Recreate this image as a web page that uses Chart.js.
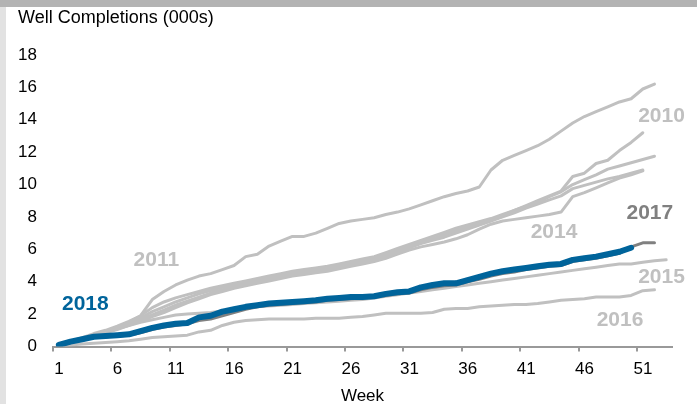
<!DOCTYPE html>
<html>
<head>
<meta charset="utf-8">
<script src="https://cdn.jsdelivr.net/npm/chart.js@4.4.1/dist/chart.umd.min.js"></script>
<style>
  html, body { margin: 0; padding: 0; background: #fff; }
  #wrap { position: relative; width: 697px; height: 404px; overflow: hidden; }
  #topBar { position: absolute; left: 0; top: 0; width: 697px; height: 7px; background: #b3b3b3; }
  #leftBar { position: absolute; left: 0; top: 7px; width: 6px; height: 397px; background: #e2e2e2; }
  #chart { position: absolute; left: 0; top: 0; }
</style>
</head>
<body>
<div id="wrap">
  <div id="topBar"></div>
  <div id="leftBar"></div>
  <canvas id="chart" width="697" height="404"></canvas>
</div>
<script>
// weeks of the year (x categories)
const weeks = [1, 2, 3, 4, 5, 6, 7, 8, 9, 10, 11, 12, 13, 14, 15, 16, 17, 18, 19, 20,
  21, 22, 23, 24, 25, 26, 27, 28, 29, 30, 31, 32, 33, 34, 35, 36, 37, 38, 39, 40,
  41, 42, 43, 44, 45, 46, 47, 48, 49, 50, 51, 52, 53];

// x axis tick labels, y axis ticks
const weekTicks = [1, 6, 11, 16, 21, 26, 31, 36, 41, 46, 51];
const valueTicks = [0, 2, 4, 6, 8, 10, 12, 14, 16, 18];

// cumulative well completions (000s) by week
const s2010 = [0.1, 0.3, 0.55, 0.8, 1.0, 1.25, 1.55, 1.9,
  2.4, 2.75, 3.0, 3.2, 3.4, 3.6, 3.75, 3.9, 4.05, 4.2, 4.35, 4.5,
  4.65, 4.75, 4.85, 4.95, 5.1, 5.25, 5.4, 5.55, 5.8, 6.05,
  6.3, 6.55, 6.8, 7.05, 7.3, 7.5, 7.7, 7.9, 8.15, 8.4,
  8.7, 9.0, 9.3, 9.6, 10.5, 10.7, 11.3, 11.5, 12.1, 12.6, 13.2];
const s2011 = [0.1, 0.3, 0.5, 0.75, 0.95, 1.2, 1.5, 1.9, 2.9, 3.4,
  3.8, 4.1, 4.35, 4.5, 4.75, 5.0, 5.55, 5.7, 6.2, 6.5,
  6.8, 6.8, 7.0, 7.3, 7.6, 7.75, 7.85, 7.95, 8.15, 8.3,
  8.5, 8.75, 9.0, 9.25, 9.45, 9.6, 9.85, 10.9, 11.5, 11.8,
  12.1, 12.4, 12.8, 13.3, 13.8, 14.2, 14.5, 14.8, 15.1, 15.3, 15.9, 16.2];
const s2012 = [0.1, 0.3, 0.5, 0.75, 0.95, 1.2, 1.45, 1.75,
  2.15, 2.45, 2.75, 3.0, 3.25, 3.45, 3.65, 3.8, 3.95, 4.1, 4.25, 4.4,
  4.55, 4.65, 4.75, 4.85, 5.0, 5.15, 5.3, 5.45, 5.7, 5.95,
  6.2, 6.45, 6.65, 6.9, 7.15, 7.35, 7.6, 7.85, 8.1, 8.4,
  8.65, 8.9, 9.25, 9.55, 10.0, 10.3, 10.6, 10.95, 11.15, 11.35, 11.55, 11.75];
const s2013 = [0.1, 0.25, 0.45, 0.7, 0.9, 1.1, 1.35, 1.65,
  1.95, 2.25, 2.55, 2.8, 3.05, 3.3, 3.5, 3.7, 3.85, 4.0, 4.15, 4.3,
  4.45, 4.55, 4.65, 4.75, 4.9, 5.05, 5.2, 5.35, 5.6, 5.85,
  6.1, 6.35, 6.55, 6.75, 7.0, 7.25, 7.5, 7.75, 8.0, 8.25,
  8.55, 8.8, 9.05, 9.3, 9.75, 9.95, 10.15, 10.35, 10.5, 10.7, 10.9];
const s2014 = [0.05, 0.25, 0.45, 0.65, 0.85, 1.05, 1.3, 1.55,
  1.85, 2.1, 2.4, 2.7, 2.95, 3.2, 3.4, 3.6, 3.75, 3.9, 4.05, 4.2,
  4.35, 4.45, 4.55, 4.65, 4.8, 4.95, 5.1, 5.25, 5.45, 5.7,
  5.95, 6.15, 6.3, 6.45, 6.65, 6.9, 7.25, 7.55, 7.75, 7.85,
  7.95, 8.05, 8.15, 8.3, 9.25, 9.5, 9.8, 10.1, 10.4, 10.6, 10.85];
const s2015 = [0.1, 0.3, 0.5, 0.7, 0.9, 1.1, 1.3, 1.5, 1.65, 1.8,
  1.95, 2.0, 2.05, 2.1, 2.2, 2.3, 2.4, 2.45, 2.5, 2.55,
  2.6, 2.65, 2.7, 2.75, 2.8, 2.85, 2.9, 3.0, 3.1, 3.2,
  3.3, 3.4, 3.5, 3.6, 3.7, 3.8, 3.9, 4.0, 4.1, 4.2,
  4.3, 4.4, 4.5, 4.6, 4.7, 4.8, 4.9, 5.0, 5.1, 5.1,
  5.2, 5.3, 5.35];
const s2016 = [0.05, 0.1, 0.15, 0.2, 0.25, 0.3, 0.35, 0.45, 0.55, 0.6,
  0.65, 0.7, 0.9, 1.0, 1.3, 1.5, 1.6, 1.65, 1.7, 1.7,
  1.7, 1.7, 1.75, 1.75, 1.75, 1.8, 1.85, 1.95, 2.05, 2.05,
  2.05, 2.05, 2.1, 2.3, 2.35, 2.35, 2.45, 2.5, 2.55, 2.6,
  2.6, 2.65, 2.75, 2.85, 2.9, 2.95, 3.05, 3.05, 3.05, 3.15,
  3.45, 3.5];
const s2017 = [0.05, 0.25, 0.4, 0.55, 0.6, 0.65, 0.7, 0.85, 1.05, 1.2,
  1.3, 1.4, 1.6, 1.7, 1.9, 2.1, 2.3, 2.45, 2.55, 2.6,
  2.65, 2.7, 2.75, 2.85, 2.9, 2.95, 3.0, 3.05, 3.15, 3.25,
  3.3, 3.5, 3.65, 3.75, 3.8, 4.0, 4.15, 4.35, 4.5, 4.6,
  4.75, 4.85, 4.95, 5.0, 5.25, 5.35, 5.45, 5.6, 5.75, 6.15,
  6.4, 6.4];
const s2018 = [0.1, 0.3, 0.45, 0.6, 0.65, 0.7, 0.75, 0.95, 1.15, 1.3,
  1.4, 1.45, 1.8, 1.9, 2.15, 2.3, 2.45, 2.55, 2.65, 2.7,
  2.75, 2.8, 2.85, 2.95, 3.0, 3.05, 3.05, 3.1, 3.25, 3.35,
  3.4, 3.65, 3.8, 3.9, 3.9, 4.1, 4.3, 4.5, 4.65, 4.75,
  4.85, 4.95, 5.05, 5.1, 5.35, 5.45, 5.55, 5.7, 5.85, 6.1];

// year labels on the plot, anchored in week / value units
const labelYears = ['2010', '2011', '2014', '2015', '2016', '2017', '2018'];
const labelWeeks = [52.6, 9.35, 43.4, 52.6, 49.05, 51.6, 3.27];
const labelValues = [14.2, 5.3, 7.05, 4.25, 1.6, 8.25, 2.6];

const GRAY = '#c0c0c0';
const DARK = '#808080';
const BLUE = '#00649b';
const labelColors = [GRAY, GRAY, GRAY, GRAY, GRAY, DARK, BLUE];

function toPoints(values) {
  return values.map((v, i) => ({ x: weeks[i], y: v }));
}

function lineSet(label, values, color, width) {
  return {
    label: label,
    data: toPoints(values),
    borderColor: color,
    backgroundColor: color,
    borderWidth: width,
    pointRadius: 0,
    tension: 0,
    borderJoinStyle: 'round',
    borderCapStyle: 'round'
  };
}

// first dataset is drawn on top
const datasets = [
  lineSet('2018', s2018, BLUE, 6),
  lineSet('2017', s2017, DARK, 3),
  lineSet('2016', s2016, GRAY, 3),
  lineSet('2015', s2015, GRAY, 3),
  lineSet('2014', s2014, GRAY, 3),
  lineSet('2013', s2013, GRAY, 3),
  lineSet('2012', s2012, GRAY, 3),
  lineSet('2011', s2011, GRAY, 3),
  lineSet('2010', s2010, GRAY, 3)
];

// draws the year names next to their lines
const yearLabelPlugin = {
  id: 'yearLabels',
  afterDatasetsDraw(chart) {
    const ctx = chart.ctx;
    const xs = chart.scales.x;
    const ys = chart.scales.y;
    ctx.save();
    ctx.font = 'bold 21px "Liberation Sans", Arial, sans-serif';
    ctx.textAlign = 'center';
    ctx.textBaseline = 'middle';
    labelYears.forEach((txt, i) => {
      ctx.fillStyle = labelColors[i];
      ctx.fillText(txt, xs.getPixelForValue(labelWeeks[i]), ys.getPixelForValue(labelValues[i]));
    });
    ctx.restore();
  }
};

const FONT = '"Liberation Sans", Arial, sans-serif';

new Chart(document.getElementById('chart'), {
  type: 'line',
  data: { datasets: datasets },
  plugins: [yearLabelPlugin],
  options: {
    responsive: false,
    animation: false,
    layout: { padding: { top: 7, left: 18, right: 25, bottom: 0 } },
    plugins: {
      legend: { display: false },
      tooltip: { enabled: false },
      title: {
        display: true,
        text: 'Well Completions (000s)',
        align: 'start',
        color: '#000',
        font: { family: FONT, size: 18, weight: 'normal' },
        padding: { top: 0, bottom: 26.4 }
      }
    },
    scales: {
      x: {
        type: 'linear',
        min: 0.5,
        max: 53.5,
        afterBuildTicks: (axis) => {
          axis.ticks = weekTicks.map(w => ({ value: w - 0.5 }));
        },
        afterFit: (axis) => { axis.height = 57.5; },
        grid: { display: true, drawOnChartArea: false, tickLength: 5, color: '#999', lineWidth: 2 },
        border: { display: true, color: '#999', width: 2 },
        ticks: {
          autoSkip: false,
          maxRotation: 0,
          padding: 8,
          labelOffset: 6,
          color: '#000',
          font: { family: FONT, size: 17 },
          callback: (value) => String(value + 0.5)
        },
        title: {
          display: true,
          text: 'Week',
          color: '#000',
          font: { family: FONT, size: 17 },
          padding: { top: 0, bottom: -3 }
        }
      },
      y: {
        min: 0,
        max: 18,
        afterBuildTicks: (axis) => {
          axis.ticks = valueTicks.map(v => ({ value: v }));
        },
        afterFit: (axis) => { axis.width = 35; },
        grid: { display: false, drawTicks: false },
        border: { display: false },
        ticks: {
          padding: 16,
          color: '#000',
          font: { family: FONT, size: 17 }
        }
      }
    }
  }
});
</script>
</body>
</html>
